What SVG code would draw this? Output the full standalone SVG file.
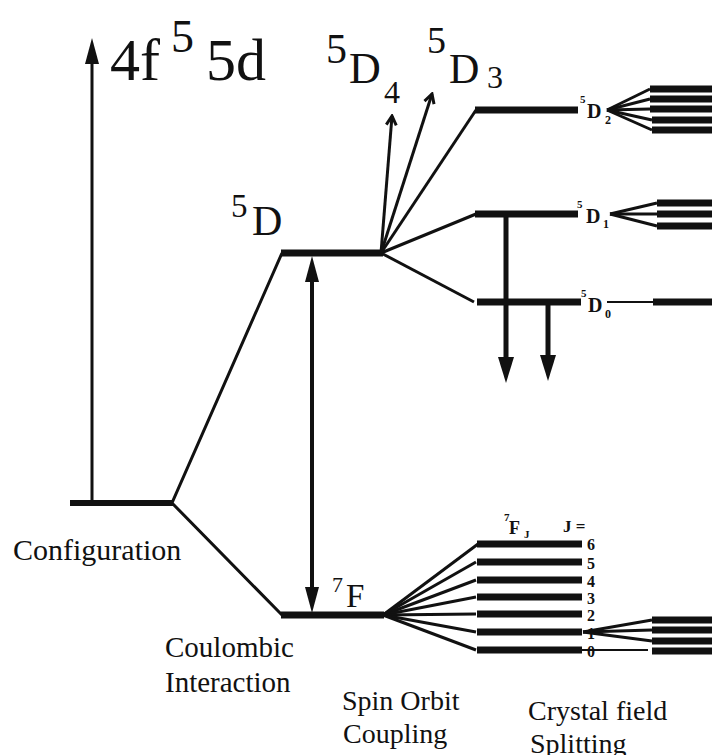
<svg xmlns="http://www.w3.org/2000/svg" width="714" height="755" viewBox="0 0 714 755" font-family="'Liberation Serif', 'Times New Roman', Tinos, 'DejaVu Serif', serif">
<style>
  .lvl{stroke:#111;stroke-width:7;fill:none}
  .cf{stroke:#111;stroke-width:7;fill:none}
  .ln{stroke:#111;stroke-width:3;fill:none}
  .thin{stroke:#111;stroke-width:2;fill:none}
  text{font-family:'Liberation Serif', 'Times New Roman', Tinos, 'DejaVu Serif', serif;fill:#111}
  .b{font-weight:bold}
</style>
<defs>
  <marker id="head" markerUnits="userSpaceOnUse" viewBox="0 0 26 14" markerWidth="26" markerHeight="14" refX="10" refY="7" orient="auto-start-reverse">
    <path d="M0,0 L26,7 L0,14 z" fill="#111"/>
  </marker>
  <marker id="headB" markerUnits="userSpaceOnUse" viewBox="0 0 26 16" markerWidth="26" markerHeight="16" refX="10" refY="8" orient="auto">
    <path d="M0,0 L26,8 L0,16 z" fill="#111"/>
  </marker>
  <marker id="open" markerUnits="userSpaceOnUse" viewBox="-12 -7 14 14" markerWidth="14" markerHeight="14" refX="0" refY="0" orient="auto">
    <path d="M-9,-5 L0,0 L-9,5" fill="none" stroke="#111" stroke-width="3"/>
  </marker>
</defs>
<rect width="714" height="755" fill="#fff"/>

<g id="connectors">
  <line class="ln" x1="92" y1="503" x2="92" y2="54" marker-end="url(#head)"/>
  <polyline class="ln" points="282,253 172,503 282,615"/>
  <line x1="312" y1="272" x2="312" y2="597" stroke="#111" stroke-width="4" marker-start="url(#head)" marker-end="url(#head)"/>
  <line class="ln" x1="381" y1="253" x2="392" y2="116" marker-end="url(#open)"/>
  <line class="ln" x1="381" y1="253" x2="432" y2="94" marker-end="url(#open)"/>
  <line class="ln" x1="381" y1="253" x2="476" y2="110"/>
  <line class="ln" x1="381" y1="253" x2="476" y2="214"/>
  <line class="ln" x1="381" y1="253" x2="474" y2="302"/>
  <line x1="506" y1="214" x2="506" y2="367" stroke="#111" stroke-width="5" marker-end="url(#headB)"/>
  <line x1="548" y1="302" x2="548" y2="365" stroke="#111" stroke-width="5" marker-end="url(#headB)"/>
  <line class="ln" x1="383" y1="615" x2="478" y2="544"/>
  <line class="ln" x1="383" y1="615" x2="476" y2="562"/>
  <line class="ln" x1="383" y1="615" x2="476" y2="580"/>
  <line class="ln" x1="383" y1="615" x2="476" y2="597"/>
  <line class="ln" x1="383" y1="615" x2="476" y2="614"/>
  <line class="ln" x1="383" y1="615" x2="476" y2="632"/>
  <line class="ln" x1="383" y1="615" x2="476" y2="650"/>
  <line class="ln" x1="607" y1="110" x2="650" y2="89"/>
  <line class="ln" x1="607" y1="110" x2="650" y2="99"/>
  <line class="ln" x1="607" y1="110" x2="650" y2="109"/>
  <line class="ln" x1="607" y1="110" x2="652" y2="120"/>
  <line class="ln" x1="607" y1="110" x2="652" y2="130"/>
  <line class="ln" x1="610" y1="214" x2="657" y2="203"/>
  <line class="ln" x1="610" y1="214" x2="657" y2="214"/>
  <line class="ln" x1="610" y1="214" x2="657" y2="226"/>
  <line class="thin" x1="607" y1="302" x2="654" y2="302"/>
  <line class="ln" x1="583" y1="632" x2="652" y2="620"/>
  <line class="ln" x1="583" y1="632" x2="652" y2="630"/>
  <line class="ln" x1="583" y1="632" x2="652" y2="641"/>
  <line class="thin" x1="582" y1="650" x2="648" y2="650"/>
</g>

<g id="configuration">
  <line x1="70" y1="503" x2="173" y2="503" stroke="#111" stroke-width="6"/>
  <text x="110" y="80" font-size="60">4f</text>
  <text x="171" y="52" font-size="46">5</text>
  <text x="206" y="80" font-size="60">5d</text>
  <text x="13" y="560" font-size="30">Configuration</text>
</g>

<g id="term-5D">
  <line class="lvl" x1="281" y1="253" x2="383" y2="253"/>
  <text x="231" y="217" font-size="33">5</text>
  <text x="252" y="235" font-size="42">D</text>
</g>

<g id="term-7F">
  <line class="lvl" x1="281" y1="615" x2="384" y2="615"/>
  <text x="332" y="592" font-size="22">7</text>
  <text x="346" y="607" font-size="33">F</text>
</g>

<g id="level-5D4">
  <text x="326" y="63" font-size="42">5</text>
  <text x="349" y="83" font-size="44">D</text>
  <text x="384" y="103" font-size="32">4</text>
</g>

<g id="level-5D3">
  <text x="427" y="53" font-size="38">5</text>
  <text x="449" y="83" font-size="42">D</text>
  <text x="487" y="88" font-size="32">3</text>
</g>

<g id="level-5D2">
  <line class="lvl" x1="475" y1="110" x2="578" y2="110"/>
  <text class="b" x="580" y="103" font-size="11">5</text>
  <text class="b" x="587" y="118" font-size="20">D</text>
  <text class="b" x="605" y="124" font-size="12">2</text>
  <line class="cf" x1="650" y1="89" x2="712" y2="89"/>
  <line class="cf" x1="650" y1="99" x2="712" y2="99"/>
  <line class="cf" x1="650" y1="109" x2="712" y2="109"/>
  <line class="cf" x1="652" y1="120" x2="712" y2="120"/>
  <line class="cf" x1="652" y1="130" x2="712" y2="130"/>
</g>

<g id="level-5D1">
  <line class="lvl" x1="475" y1="214" x2="578" y2="214"/>
  <text class="b" x="577" y="208" font-size="11">5</text>
  <text class="b" x="586" y="223" font-size="20">D</text>
  <text class="b" x="603" y="228" font-size="12">1</text>
  <line class="cf" x1="657" y1="203" x2="712" y2="203"/>
  <line class="cf" x1="657" y1="214" x2="712" y2="214"/>
  <line class="cf" x1="657" y1="226" x2="712" y2="226"/>
</g>

<g id="level-5D0">
  <line class="lvl" x1="477" y1="302" x2="581" y2="302"/>
  <text class="b" x="581" y="297" font-size="11">5</text>
  <text class="b" x="588" y="312" font-size="20">D</text>
  <text class="b" x="605" y="318" font-size="12">0</text>
  <line class="cf" x1="653" y1="302" x2="712" y2="302"/>
</g>

<g id="levels-7FJ">
  <text class="b" x="504" y="521" font-size="11">7</text>
  <text class="b" x="509" y="534" font-size="18">F</text>
  <text class="b" x="524" y="538" font-size="11">J</text>
  <text class="b" x="563" y="532" font-size="17">J =</text>
  <line class="lvl" x1="477" y1="544" x2="582" y2="544"/>
  <line class="lvl" x1="477" y1="562" x2="582" y2="562"/>
  <line class="lvl" x1="477" y1="580" x2="582" y2="580"/>
  <line class="lvl" x1="477" y1="597" x2="582" y2="597"/>
  <line class="lvl" x1="477" y1="614" x2="582" y2="614"/>
  <line class="lvl" x1="477" y1="632" x2="582" y2="632"/>
  <line class="lvl" x1="477" y1="650" x2="582" y2="650"/>
  <text class="b" x="587" y="550" font-size="16">6</text>
  <text class="b" x="587" y="569" font-size="16">5</text>
  <text class="b" x="587" y="587" font-size="16">4</text>
  <text class="b" x="587" y="604" font-size="16">3</text>
  <text class="b" x="587" y="621" font-size="16">2</text>
  <text class="b" x="587" y="639" font-size="16">1</text>
  <text class="b" x="587" y="657" font-size="16">0</text>
  <line class="cf" x1="652" y1="620" x2="712" y2="620"/>
  <line class="cf" x1="652" y1="630" x2="712" y2="630"/>
  <line class="cf" x1="652" y1="641" x2="712" y2="641"/>
  <line class="cf" x1="652" y1="651" x2="712" y2="651"/>
</g>

<g id="captions">
  <text x="165" y="657" font-size="29">Coulombic</text>
  <text x="165" y="692" font-size="29">Interaction</text>
  <text x="342" y="710" font-size="28">Spin Orbit</text>
  <text x="343" y="743" font-size="28">Coupling</text>
  <text x="528" y="720" font-size="28">Crystal field</text>
  <text x="530" y="753" font-size="28">Splitting</text>
</g>
</svg>
